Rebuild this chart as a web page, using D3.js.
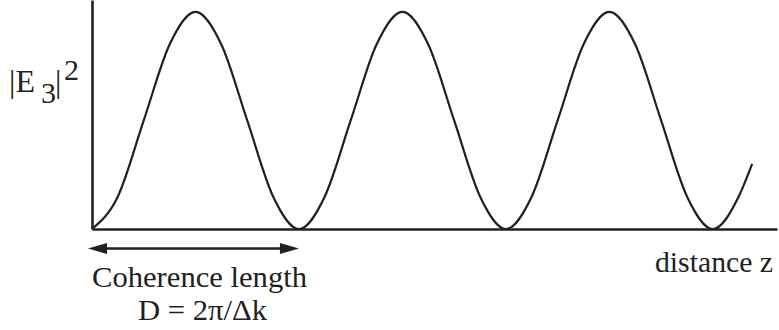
<!DOCTYPE html>
<html>
<head>
<meta charset="utf-8">
<script src="https://cdn.jsdelivr.net/npm/d3@7"></script>
<style>
  html, body { margin: 0; padding: 0; background: #fff; }
  svg { display: block; }
  text { font-family: "Liberation Serif", "Times New Roman", serif; fill: #231f20; }
</style>
</head>
<body>
<svg id="chart" width="779" height="330"></svg>
<script>
// Distance along the crystal, in units of the coherence length D
const distance = [0, 0.125, 0.25, 0.375, 0.5, 0.625, 0.75, 0.875,
                  1, 1.125, 1.25, 1.375, 1.5, 1.625, 1.75, 1.875,
                  2, 2.125, 2.25, 2.375, 2.5, 2.625, 2.75, 2.875,
                  3, 3.125, 3.19];
// Relative generated intensity |E3|^2
const intensity = [0, 0.15, 0.5, 0.85, 1, 0.85, 0.5, 0.15,
                   0, 0.15, 0.5, 0.85, 1, 0.85, 0.5, 0.15,
                   0, 0.15, 0.5, 0.85, 1, 0.85, 0.5, 0.15,
                   0, 0.15, 0.3];
// Span marked by the double arrow: one coherence length
const arrowSpan = [0, 1];
const axisMax = { x: 3.31, y: 1.055 };

const ink = "#231f20";
const svg = d3.select("#chart");

const x = d3.scaleLinear().domain([0, axisMax.x]).range([92, 777]);
const y = d3.scaleLinear().domain([0, axisMax.y]).range([229, 0]);

// Curve
const pts = distance.map((d, i) => [d, intensity[i]]);
svg.append("path")
  .datum(pts)
  .attr("fill", "none")
  .attr("stroke", ink)
  .attr("stroke-width", 2.2)
  .attr("d", d3.line().x(d => x(d[0])).y(d => y(d[1])).curve(d3.curveMonotoneX));

// Axes without ticks
svg.append("g").attr("transform", `translate(0,${y(0)})`)
  .call(d3.axisBottom(x).tickValues([]).tickSizeOuter(0));
svg.append("g").attr("transform", `translate(${x(0)},0)`)
  .call(d3.axisLeft(y).tickValues([]).tickSizeOuter(0));
svg.selectAll(".domain").attr("stroke", ink).attr("stroke-width", 2.6);

// Double-headed arrow spanning one coherence length
const ay = 248.5;
const ax0 = x(arrowSpan[0]) - 4, ax1 = x(arrowSpan[1]);
svg.append("line")
  .attr("x1", ax0 + 10).attr("x2", ax1 - 10)
  .attr("y1", ay).attr("y2", ay)
  .attr("stroke", ink).attr("stroke-width", 2.4);
svg.append("path")
  .attr("fill", ink)
  .attr("d", `M${ax0},${ay} L${ax0 + 19},${ay - 5.5} L${ax0 + 19},${ay + 5.5} Z`);
svg.append("path")
  .attr("fill", ink)
  .attr("d", `M${ax1},${ay} L${ax1 - 19},${ay - 5.5} L${ax1 - 19},${ay + 5.5} Z`);

// Labels
const ylab = svg.append("text").attr("font-size", 32);
ylab.append("tspan").attr("x", 9).attr("y", 92).text("|E");
ylab.append("tspan").attr("x", 41).attr("y", 103).attr("font-size", 30).text("3");
ylab.append("tspan").attr("x", 55).attr("y", 92).text("|");
ylab.append("tspan").attr("x", 64).attr("y", 80).attr("font-size", 30).text("2");

svg.append("text")
  .attr("x", 92).attr("y", 287)
  .attr("font-size", 30)
  .attr("textLength", 215).attr("lengthAdjust", "spacingAndGlyphs")
  .text("Coherence length");
svg.append("text")
  .attr("x", 138).attr("y", 320)
  .attr("font-size", 29.5)
  .attr("textLength", 129).attr("lengthAdjust", "spacingAndGlyphs")
  .text("D = 2\u03c0/\u0394k");
svg.append("text")
  .attr("x", 655).attr("y", 272)
  .attr("font-size", 29.5)
  .attr("textLength", 118).attr("lengthAdjust", "spacingAndGlyphs")
  .text("distance z");
</script>
</body>
</html>
